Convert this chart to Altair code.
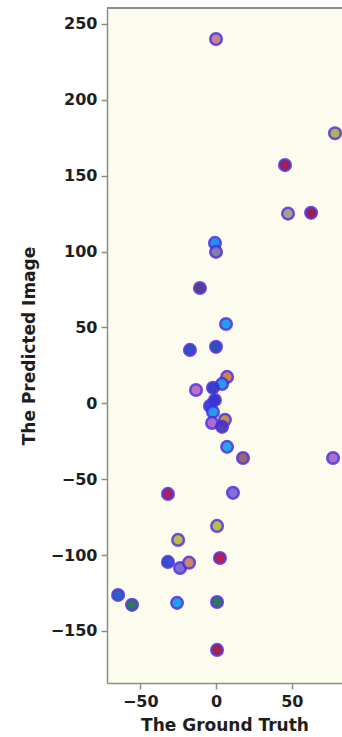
import altair as alt
import pandas as pd

# Ground-truth vs predicted values, one entry per sample
ground_truth = [0, 78.5, 45.5, 47.5, 62.7, -0.7, 0, -10.6, 6.6, -17.2, 0, 7.3, 4,
                -13.2, -2, -0.7, -4, -2, -2.6, 5.9, 4, 7.3, 17.8, 77.2, 11.2,
                -31.7, 0.7, -25, -31.7, -23.7, -17.8, 2.6, -64.6, -55.4, -25.7,
                0.7, 0.7]
predicted = [240, 178, 157, 125, 125.5, 105.7, 99.8, 76, 52.3, 35.2, 37.2, 17.4,
             12.8, 8.8, 10.2, 2.2, -1.7, -5.7, -12.9, -10.9, -15.5, -28.7, -36,
             -36, -59, -59.7, -80.8, -90, -104.5, -108.5, -105, -101.9, -126.3,
             -132.8, -131.5, -130.9, -162.5]
face_colors = ["#c0808f", "#b0b048", "#9a1448", "#a0a088", "#981448", "#1a8cf8",
               "#8078a8", "#523488", "#1a9ce8", "#2448c0", "#2448b0", "#c88048",
               "#1a9ce8", "#b868c8", "#2a38c8", "#2230d0", "#2a40d8", "#1a9ce8",
               "#a868d0", "#c88848", "#4838b8", "#1aa4e8", "#986068", "#a868d0",
               "#8068d0", "#a81458", "#b8b848", "#b8b848", "#2a48d0", "#7868d0",
               "#c88068", "#b81448", "#2458c0", "#247058", "#1a9ce8", "#247058",
               "#a81438"]

df = pd.DataFrame({"truth": ground_truth, "pred": predicted, "face": face_colors})

W, H = 235, 675
FONT = "DejaVu Sans"
minus = "replace(datum.label, '-', '\u2212')"

points = alt.Chart(df).mark_circle(
    size=135, opacity=0.95, stroke="#4a28e0", strokeWidth=2.5, strokeOpacity=0.85
).encode(
    x=alt.X("truth:Q", title="The Ground Truth",
            scale=alt.Scale(domain=[-71.9, 83.1], nice=False, zero=False),
            axis=alt.Axis(values=[-50, 0, 50], grid=False, labelExpr=minus,
                          titlePadding=8)),
    y=alt.Y("pred:Q", title="The Predicted Image",
            scale=alt.Scale(domain=[-184.3, 260.5], nice=False, zero=False),
            axis=alt.Axis(values=[-150, -100, -50, 0, 50, 100, 150, 200, 250],
                          grid=False, labelExpr=minus, titlePadding=12)),
    color=alt.Color("face:N", scale=None),
)

# top border of the plot frame
top_edge = alt.Chart(df).mark_rule(color="#8c8c8c", strokeWidth=1.5).encode(
    x=alt.value(0), x2=alt.value(W), y=alt.value(0)
)

chart = alt.layer(points, top_edge).properties(
    width=W, height=H,
    autosize=alt.AutoSizeParams(type="none"),
    padding={"left": 107, "top": 8, "right": 0, "bottom": 54},
    background="white",
).configure_view(
    fill="#fcfdee", stroke=None
).configure_axis(
    domainColor="#8c8c8c", domainWidth=1.5,
    tickColor="#8c8c8c", tickSize=6, tickWidth=1.5,
    labelFont=FONT, labelFontSize=16, labelFontWeight="bold", labelColor="#1e1e1e",
    labelPadding=4,
    titleFont=FONT, titleFontSize=17, titleFontWeight="bold", titleColor="#1e1e1e",
)

chart.save("out.html", embed_options={"renderer": "svg", "actions": False})
